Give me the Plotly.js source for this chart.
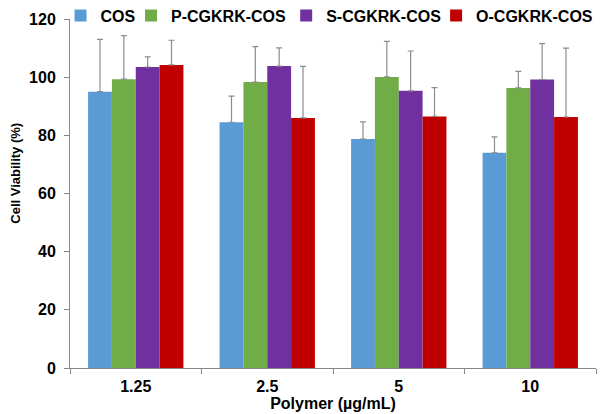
<!DOCTYPE html>
<html>
<head>
<meta charset="utf-8">
<script src="https://cdn.plot.ly/plotly-3.0.1.min.js"></script>
<style>html,body{margin:0;padding:0;background:#fff;}#chart{width:605px;height:414px;}</style>
</head>
<body>
<div id="chart"></div>
<script>
const categories = ["1.25", "2.5", "5", "10"];
const seriesNames = ["COS", "P-CGKRK-COS", "S-CGKRK-COS", "O-CGKRK-COS"];
const cosVals = [95.0, 84.5, 78.7, 74.0];
const pVals = [99.3, 98.3, 100.1, 96.3];
const sVals = [103.5, 103.8, 95.3, 99.2];
const oVals = [104.2, 86.0, 86.5, 86.3];
const cosErr = [18.0, 9.0, 5.9, 5.5];
const pErr = [15.0, 12.2, 12.2, 5.7];
const sErr = [3.5, 6.3, 13.7, 12.3];
const oErr = [8.5, 17.7, 9.9, 23.7];
const colors = ["#5B9BD5", "#70AD47", "#7030A0", "#C00000"];
const xTitle = "Polymer (µg/mL)";
const yTitle = "Cell Viability (%)";

const values = [cosVals, pVals, sVals, oVals];
const errs = [cosErr, pErr, sErr, oErr];
const legendIds = ["legend", "legend2", "legend3", "legend4"];
const legendX = [-0.018, 0.116, 0.411, 0.696];

const traces = seriesNames.map((name, i) => ({
  type: "bar",
  name: name,
  x: categories,
  y: values[i],
  legend: legendIds[i],
  marker: {color: colors[i], line: {width: 0}},
  error_y: {
    type: "data",
    symmetric: false,
    array: errs[i],
    arrayminus: errs[i].map(() => 0),
    color: "#8C8C8C",
    thickness: 1.2,
    width: 3
  }
}));

const fam = "Liberation Sans, Arial, sans-serif";
const boldFont = (size) => ({family: fam, size: size, color: "#000", weight: "bold"});

const layout = {
  width: 605,
  height: 414,
  margin: {l: 70, r: 9, t: 19, b: 46, autoexpand: false},
  paper_bgcolor: "#fff",
  plot_bgcolor: "#fff",
  barmode: "group",
  bargap: 0.275,
  bargroupgap: 0,
  font: {family: fam, size: 14, color: "#000"},
  showlegend: true,
  xaxis: {
    type: "category",
    showline: true,
    linecolor: "#868686",
    linewidth: 1,
    ticks: "outside",
    tickson: "boundaries",
    ticklen: 5,
    tickcolor: "#868686",
    ticklabelstandoff: 4,
    tickfont: boldFont(16),
    showgrid: false,
    zeroline: false,
    automargin: false,
    title: {text: xTitle, font: boldFont(16), standoff: 0}
  },
  yaxis: {
    range: [0, 120],
    dtick: 20,
    showline: true,
    linecolor: "#868686",
    linewidth: 1,
    ticks: "outside",
    ticklen: 5,
    tickcolor: "#868686",
    ticklabelstandoff: 5,
    tickfont: boldFont(16),
    showgrid: false,
    zeroline: false,
    automargin: false
  },
  annotations: [{
    text: yTitle,
    xref: "paper", yref: "paper",
    x: -0.103, y: 0.559,
    xanchor: "center", yanchor: "middle",
    textangle: -90,
    showarrow: false,
    font: boldFont(13)
  }]
};

legendIds.forEach((id, i) => {
  layout[id] = {
    orientation: "h",
    x: legendX[i],
    xanchor: "left",
    y: 1.01,
    yanchor: "middle",
    bgcolor: "rgba(0,0,0,0)",
    font: boldFont(16),
    itemwidth: 30
  };
});

Plotly.newPlot("chart", traces, layout, {displayModeBar: false, staticPlot: true});
</script>
</body>
</html>
